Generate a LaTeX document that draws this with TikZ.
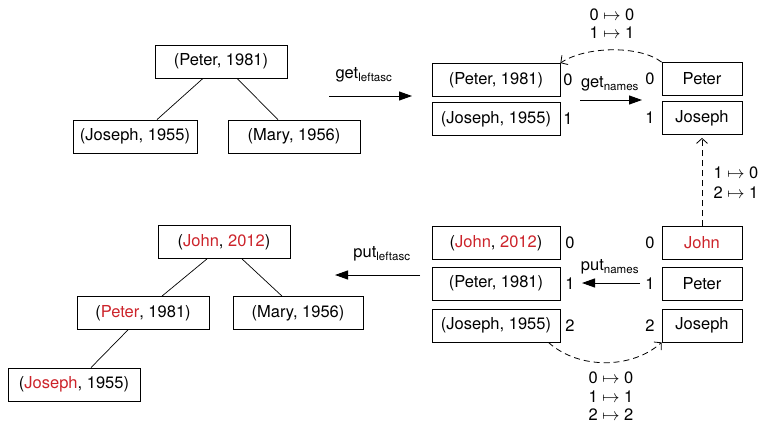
\documentclass[tikz,border=0pt]{standalone}
\usepackage{fontspec}
\setmainfont{TeX Gyre Heros}
\usetikzlibrary{arrows.meta}
\definecolor{jred}{RGB}{204,35,42}
\newcommand\redtxt[1]{\textcolor{jred}{#1}}
\begin{document}
\begin{tikzpicture}[x=1pt,y=-1pt,
  every node/.style={font=\fontsize{16.5}{19}\selectfont},
  box/.style={draw, line width=0.8pt, inner sep=0pt, minimum height=33pt},
  idx/.style={inner sep=0pt},
  map/.style={inner sep=0pt},
  treeedge/.style={line width=0.7pt},
  op/.style={line width=1pt, -{Triangle[length=13pt,width=9pt]}},
  link/.style={line width=0.8pt, dash pattern=on 6pt off 4pt, -{Straight Barb[length=5pt,width=11pt]}}]
\useasboundingbox (0,0) rectangle (764,423);

% ---- top-left tree
\node[box, minimum width=132pt] (tP) at (221,61.5) {(Peter, 1981)};
\node[box, minimum width=124pt] (tJ) at (135,136.5) {(Joseph, 1955)};
\node[box, minimum width=132pt] (tM) at (294,136.5) {(Mary, 1956)};
\draw[treeedge] ([xshift=-18pt]tP.south) -- ([xshift=22pt]tJ.north);
\draw[treeedge] ([xshift=16pt]tP.south) -- ([xshift=-16pt]tM.north);

% ---- get_leftasc
\coordinate (g1s) at (329,96);
\coordinate (g1e) at (412,96);
\draw[op] (g1s) -- (g1e);
\node (g1l) at (364,75) {get\textsubscript{leftasc}};

% ---- top-right lists
\node[box, minimum width=128pt] (lP1) at (496,80) {(Peter, 1981)};
\node[box, minimum width=128pt] (lJ1) at (496,119) {(Joseph, 1955)};
\node[idx] (i10) at (568,80) {0};
\node[idx] (i11) at (568,119) {1};
\node[box, minimum width=80pt] (nP1) at (702,79) {Peter};
\node[box, minimum width=80pt] (nJ1) at (702,118) {Joseph};
\node[idx] (j10) at (650,79) {0};
\node[idx] (j11) at (650,118) {1};
\coordinate (gns) at (580,100);
\coordinate (gne) at (642,100);
\draw[op] (gns) -- (gne);
\node (gnl) at (610,84) {get\textsubscript{names}};
\draw[link] (nP1.north west) .. controls +(-22,-17) and +(25,-17) .. (lP1.north east);
\node[map] (m1a) at (612,15) {0 $\mapsto$ 0};
\node[map] (m1b) at (612,33) {1 $\mapsto$ 1};

% ---- bottom-right lists
\node[box, minimum width=128pt] (lJo2) at (496,243) {(\redtxt{John}, \redtxt{2012})};
\node[box, minimum width=128pt] (lP2) at (496,283.5) {(Peter, 1981)};
\node[box, minimum width=128pt] (lJ2) at (496,325.5) {(Joseph, 1955)};
\node[idx] (i20) at (570,243) {0};
\node[idx] (i21) at (570,283.5) {1};
\node[idx] (i22) at (570,325.5) {2};
\node[box, minimum width=80pt] (nJo2) at (702,243) {\redtxt{John}};
\node[box, minimum width=80pt] (nP2) at (702,283.5) {Peter};
\node[box, minimum width=80pt] (nJ2) at (702,325.5) {Joseph};
\node[idx] (j20) at (650,243) {0};
\node[idx] (j21) at (650,283.5) {1};
\node[idx] (j22) at (650,325.5) {2};
\coordinate (pns) at (640,283);
\coordinate (pne) at (582,283);
\draw[op] (pns) -- (pne);
\node (pnl) at (610,267) {put\textsubscript{names}};
\draw[link] ([xshift=-12pt]lJ2.south east) .. controls +(30,27) and +(-30,27) .. (nJ2.south west);
\node[map] (m2a) at (611,378) {0 $\mapsto$ 0};
\node[map] (m2b) at (611,397) {1 $\mapsto$ 1};
\node[map] (m2c) at (611,415) {2 $\mapsto$ 2};

% ---- vertical link
\draw[link, shorten >=3pt] (nJo2.north) -- (nJ1.south);
\node[map] (m3a) at (736,173) {1 $\mapsto$ 0};
\node[map] (m3b) at (736,193) {2 $\mapsto$ 1};

% ---- put_leftasc
\coordinate (p1s) at (420,275);
\coordinate (p1e) at (335,275);
\draw[op] (p1s) -- (p1e);
\node (p1l) at (382,254) {put\textsubscript{leftasc}};

% ---- bottom-left tree
\node[box, minimum width=132pt] (bJo) at (224,242) {(\redtxt{John}, \redtxt{2012})};
\node[box, minimum width=132pt] (bP) at (143,313) {(\redtxt{Peter}, 1981)};
\node[box, minimum width=130pt] (bM) at (298,313) {(Mary, 1956)};
\node[box, minimum width=132pt] (bJ) at (74,384.5) {(\redtxt{Joseph}, 1955)};
\draw[treeedge] ([xshift=-17pt]bJo.south) -- ([xshift=19pt]bP.north);
\draw[treeedge] ([xshift=18pt]bJo.south) -- ([xshift=-16pt]bM.north);
\draw[treeedge] ([xshift=-15pt]bP.south) -- ([xshift=17pt]bJ.north);
\end{tikzpicture}
\end{document}
